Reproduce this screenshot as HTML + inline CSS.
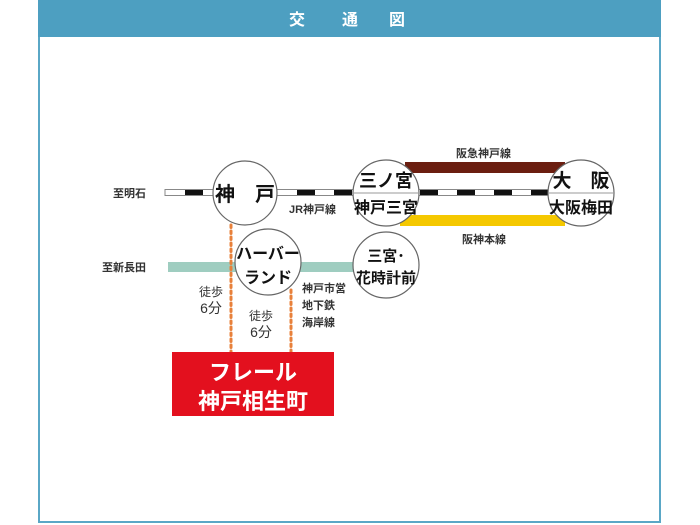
<!DOCTYPE html>
<html><head><meta charset="utf-8"><style>
body{margin:0;background:#fff;}
svg{display:block;font-family:"Liberation Sans","Noto Sans CJK JP",sans-serif;}
</style></head><body>
<svg width="700" height="525" viewBox="0 0 700 525">
<rect x="39" y="1" width="621" height="521" fill="#fff" stroke="#5aa7c6" stroke-width="2"/>
<rect x="38" y="0" width="623" height="37" fill="#4d9fc1"/>
<g fill="#fff" font-size="16" font-weight="bold" text-anchor="middle">
<text x="297" y="25">交</text><text x="350" y="25">通</text><text x="397" y="25">図</text></g>
<rect x="405" y="162" width="160" height="11" fill="#6b1e10"/>
<rect x="400" y="215" width="165" height="11" fill="#f5c800"/>
<rect x="165" y="189.5" width="400" height="6" fill="#fff" stroke="#888" stroke-width="1"/>
<g fill="#111">
<rect x="185" y="190" width="18" height="5"/>
<rect x="297" y="190" width="18" height="5"/>
<rect x="334" y="190" width="18" height="5"/>
<rect x="420" y="190" width="18" height="5"/>
<rect x="457" y="190" width="18" height="5"/>
<rect x="494" y="190" width="18" height="5"/>
<rect x="531" y="190" width="18" height="5"/>
</g>
<rect x="168" y="262" width="190" height="10" fill="#9fcdc0"/>
<line x1="231" y1="225" x2="231" y2="352" stroke="#e8803a" stroke-width="3" stroke-dasharray="2.5 3.5" stroke-linecap="round"/>
<line x1="291" y1="290" x2="291" y2="352" stroke="#e8803a" stroke-width="3" stroke-dasharray="2.5 3.5" stroke-linecap="round"/>
<g fill="#fff" stroke="#666" stroke-width="1.2">
<circle cx="245" cy="193" r="32"/>
<circle cx="386" cy="193" r="33"/>
<circle cx="581" cy="193" r="33"/>
<circle cx="268" cy="262" r="33"/>
<circle cx="386" cy="265" r="33"/>
</g>
<line x1="353" y1="193" x2="419" y2="193" stroke="#999" stroke-width="1"/>
<line x1="548" y1="193" x2="614" y2="193" stroke="#999" stroke-width="1"/>
<g fill="#111" text-anchor="middle" font-weight="bold">
<text x="245" y="201" font-size="20">神　戸</text>
<text x="386" y="187" font-size="18">三ノ宮</text>
<text x="386" y="213" font-size="16">神戸三宮</text>
<text x="581" y="187" font-size="19">大　阪</text>
<text x="581" y="213" font-size="16">大阪梅田</text>
<text x="268" y="259" font-size="16">ハーバー</text>
<text x="268" y="283" font-size="16">ランド</text>
<text x="386" y="261" font-size="15">三宮･</text>
<text x="386" y="283" font-size="15">花時計前</text>
</g>
<g fill="#333" font-size="11" font-weight="bold">
<text x="113" y="197">至明石</text>
<text x="102" y="271">至新長田</text>
<text x="289" y="213">JR神戸線</text>
<text x="456" y="157">阪急神戸線</text>
<text x="462" y="243">阪神本線</text>
<text x="302" y="292">神戸市営</text>
<text x="302" y="309">地下鉄</text>
<text x="302" y="326">海岸線</text>
</g>
<g fill="#333" text-anchor="middle">
<text x="211" y="296" font-size="12">徒歩</text>
<text x="211" y="313" font-size="14">6分</text>
<text x="261" y="320" font-size="12">徒歩</text>
<text x="261" y="337" font-size="14">6分</text>
</g>
<rect x="172" y="352" width="162" height="64" fill="#e3101e"/>
<g fill="#fff" font-size="22" font-weight="bold" text-anchor="middle">
<text x="253" y="380">フレール</text>
<text x="253" y="409">神戸相生町</text>
</g>
</svg>
</body></html>
